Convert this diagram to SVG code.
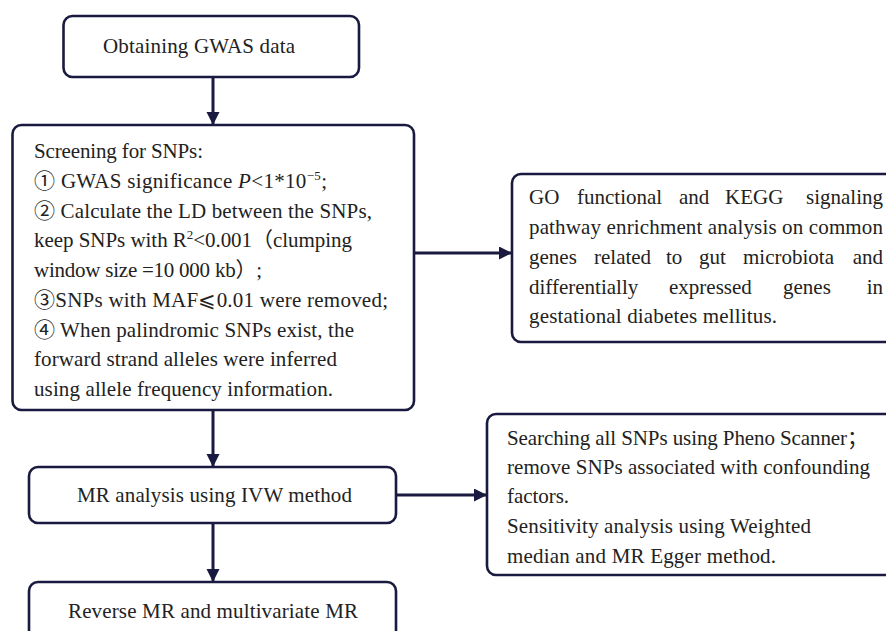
<svg xmlns="http://www.w3.org/2000/svg" width="886" height="631" viewBox="0 0 886 631">
<style>
.box{fill:#fff;stroke:#1a1a40;stroke-width:2.6}
.t{font-family:"Liberation Serif","Noto Sans CJK SC",serif;font-size:21px;fill:#222}
.c{stroke:#1a1a40;stroke-width:3;fill:none}
</style>
<defs>
<marker id="ah" markerUnits="userSpaceOnUse" markerWidth="14" markerHeight="14" refX="13" refY="6.5" orient="auto">
<path d="M0,0 L13,6.5 L0,13 z" fill="#1a1a40"/>
</marker>
</defs>
<rect width="886" height="631" fill="#fff"/>
<g id="connectors">
<line class="c" x1="213" y1="77" x2="213" y2="125" marker-end="url(#ah)"/>
<line class="c" x1="213" y1="410" x2="213" y2="467" marker-end="url(#ah)"/>
<line class="c" x1="213" y1="523" x2="213" y2="582" marker-end="url(#ah)"/>
<line class="c" x1="414" y1="253" x2="512" y2="253" marker-end="url(#ah)"/>
<line class="c" x1="396" y1="495" x2="487" y2="495" marker-end="url(#ah)"/>
</g>
<g id="obtain">
<rect class="box" x="63.5" y="16" width="295.5" height="61" rx="9"/>
<text class="t" x="103" y="53" textLength="192" lengthAdjust="spacing">Obtaining GWAS data</text>
</g>
<g id="screening">
<rect class="box" x="12.5" y="125" width="401.5" height="285" rx="9"/>
<text class="t" x="34" y="158" textLength="169" lengthAdjust="spacing">Screening for SNPs:</text>
<text class="t" x="34" y="188" textLength="293" lengthAdjust="spacing">① GWAS significance <tspan font-style="italic">P</tspan>&lt;1*10<tspan font-size="13" dy="-8">−5</tspan><tspan dy="8">;</tspan></text>
<text class="t" x="34" y="217.7" textLength="338" lengthAdjust="spacing">② Calculate the LD between the SNPs,</text>
<text class="t" x="34" y="247.4" textLength="318" lengthAdjust="spacing">keep SNPs with R<tspan font-size="13" dy="-8">2</tspan><tspan dy="8">&lt;0.001（clumping</tspan></text>
<text class="t" x="34" y="277.1" textLength="228" lengthAdjust="spacing">window size =10 000 kb）;</text>
<text class="t" x="34" y="306.8" textLength="354" lengthAdjust="spacing">③SNPs with MAF⩽0.01 were removed;</text>
<text class="t" x="34" y="336.5" textLength="320" lengthAdjust="spacing">④ When palindromic SNPs exist, the</text>
<text class="t" x="34" y="366.2" textLength="303" lengthAdjust="spacing">forward strand alleles were inferred</text>
<text class="t" x="34" y="395.9" textLength="299" lengthAdjust="spacing">using allele frequency information.</text>
</g>
<g id="go">
<rect class="box" x="512" y="174" width="390" height="168" rx="9"/>
<text class="t" y="204"><tspan x="529">GO</tspan><tspan x="577">functional</tspan><tspan x="679">and</tspan><tspan x="725">KEGG</tspan><tspan x="883" text-anchor="end">signaling</tspan></text>
<text class="t" x="529" y="234" textLength="354" lengthAdjust="spacing">pathway enrichment analysis on common</text>
<text class="t" y="264"><tspan x="529">genes</tspan><tspan x="594">related</tspan><tspan x="666">to</tspan><tspan x="699">gut</tspan><tspan x="743">microbiota</tspan><tspan x="883" text-anchor="end">and</tspan></text>
<text class="t" y="294"><tspan x="529">differentially</tspan><tspan x="669">expressed</tspan><tspan x="783">genes</tspan><tspan x="883" text-anchor="end">in</tspan></text>
<text class="t" x="529" y="323" textLength="248" lengthAdjust="spacing">gestational diabetes mellitus.</text>
</g>
<g id="mr">
<rect class="box" x="29" y="467" width="367" height="56" rx="9"/>
<text class="t" x="77" y="502" textLength="275" lengthAdjust="spacing">MR analysis using IVW method</text>
</g>
<g id="sensitivity">
<rect class="box" x="487" y="414" width="415" height="161" rx="9"/>
<text class="t" x="507" y="445" textLength="361" lengthAdjust="spacing">Searching all SNPs using Pheno Scanner；</text>
<text class="t" x="507" y="474" textLength="363" lengthAdjust="spacing">remove SNPs associated with confounding</text>
<text class="t" x="507" y="503" textLength="62" lengthAdjust="spacing">factors.</text>
<text class="t" x="507" y="533" textLength="304" lengthAdjust="spacing">Sensitivity analysis using Weighted</text>
<text class="t" x="507" y="563" textLength="269" lengthAdjust="spacing">median and MR Egger method.</text>
</g>
<g id="reverse">
<rect class="box" x="29" y="582" width="367" height="70" rx="9"/>
<text class="t" x="68" y="618" textLength="290" lengthAdjust="spacing">Reverse MR and multivariate MR</text>
</g>
</svg>
